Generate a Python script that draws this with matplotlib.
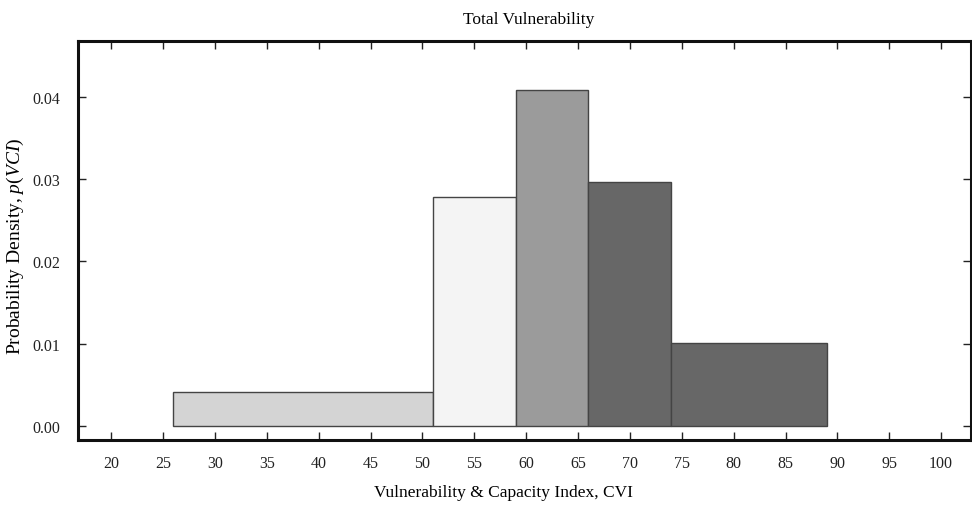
import matplotlib
matplotlib.use('Agg')
import matplotlib.pyplot as plt

# Histogram bins (CVI) and densities
bin_left = [26, 51, 59, 66, 74]
bin_right = [51, 59, 66, 74, 89]
density = [0.0041, 0.0278, 0.0409, 0.0297, 0.0101]
bar_colors = ['#d4d4d4', '#f4f4f4', '#9b9b9b', '#676767', '#676767']
x_ticks = [20, 25, 30, 35, 40, 45, 50, 55, 60, 65, 70, 75, 80, 85, 90, 95, 100]
y_ticks = [0.00, 0.01, 0.02, 0.03, 0.04]

plt.rcParams['font.family'] = ['Liberation Serif', 'DejaVu Serif']
plt.rcParams['mathtext.fontset'] = 'custom'
plt.rcParams['mathtext.rm'] = 'Liberation Serif'
plt.rcParams['mathtext.it'] = 'Liberation Serif:italic'

fig = plt.figure(figsize=(9.72, 5.06), dpi=100)
ax = fig.add_axes([0.0802, 0.1285, 0.919, 0.7885])

widths = [r - l for l, r in zip(bin_left, bin_right)]
ax.bar(bin_left, density, width=widths, align='edge', color=bar_colors,
       edgecolor='#444444', linewidth=1.0)

ax.set_xlim(16.8, 102.9)
ax.set_ylim(-0.0017, 0.0468)
ax.set_xticks(x_ticks)
ax.set_yticks(y_ticks)
ax.set_yticklabels([f'{v:.2f}' for v in y_ticks])
ax.tick_params(direction='in', top=True, right=True, length=6, width=1,
               labelsize=11.5, colors='#222222')
ax.tick_params(axis='x', pad=11)
ax.tick_params(axis='y', pad=13)
for sp in ax.spines.values():
    sp.set_linewidth(2.2)
    sp.set_color('#111111')

ax.set_title('Total Vulnerability', fontsize=12.5, pad=13, x=0.505)
ax.set_xlabel('Vulnerability & Capacity Index, CVI', fontsize=12.5)
ax.xaxis.set_label_coords(0.476, -0.11)
ax.set_ylabel('Probability Density, $\\mathit{p(VCI)}$', fontsize=14)
ax.yaxis.set_label_coords(-0.058, 0.487)

fig.savefig('out.png', dpi=100)
